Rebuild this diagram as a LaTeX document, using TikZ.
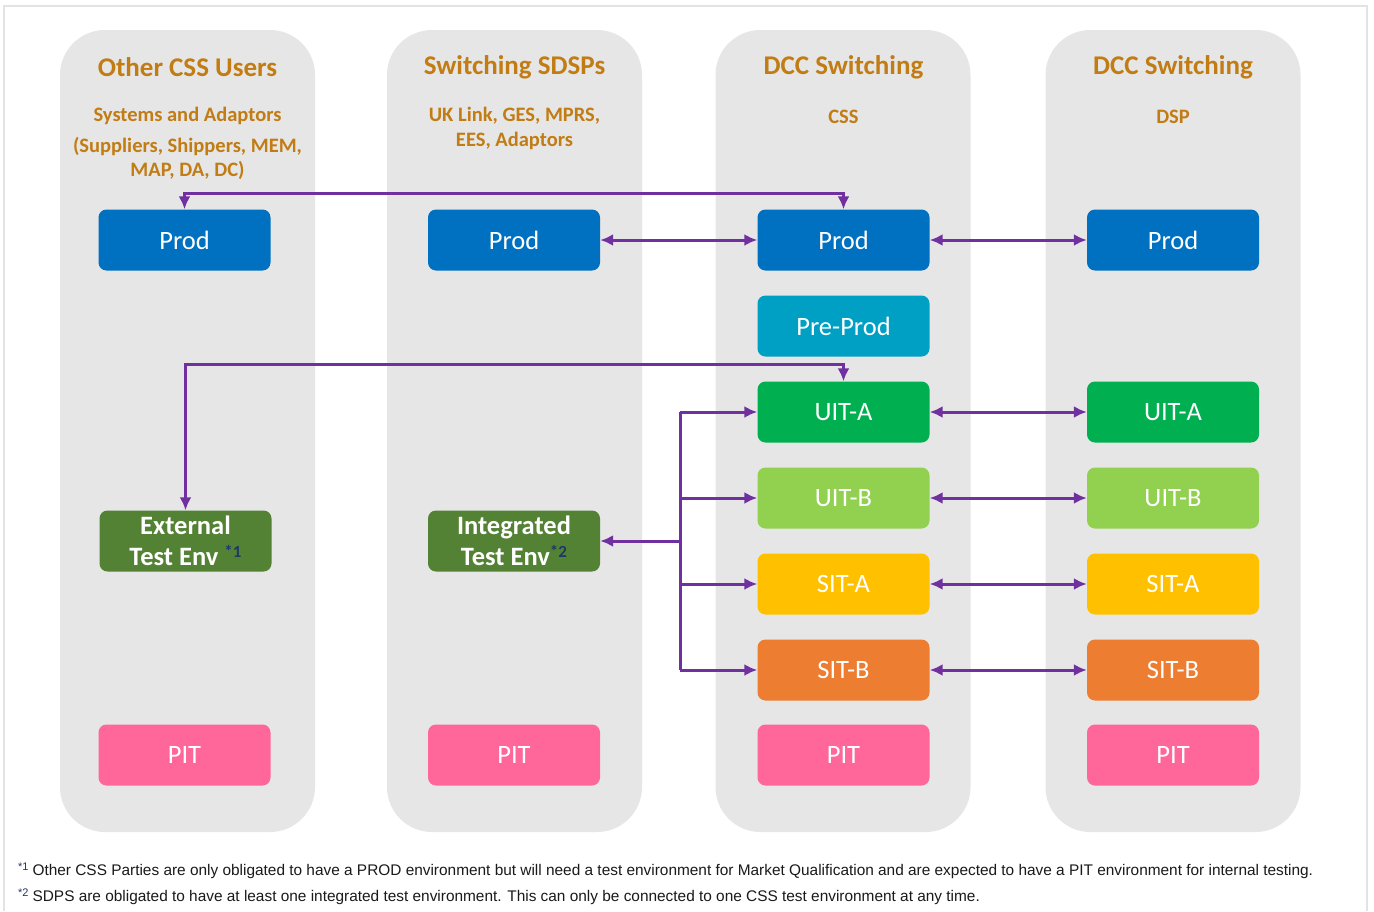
\documentclass[tikz,border=0pt]{standalone}
\usepackage{fontspec}
\setmainfont{Carlito}
\newfontfamily\arialfont{Liberation Sans}
\usetikzlibrary{arrows.meta}
\definecolor{panelgrey}{HTML}{E6E6E6}
\definecolor{framegrey}{HTML}{E3E3E3}
\definecolor{headcol}{HTML}{C17C14}
\definecolor{prodblue}{HTML}{0070C0}
\definecolor{preprod}{HTML}{00A0C4}
\definecolor{uitagreen}{HTML}{00B050}
\definecolor{uitbgreen}{HTML}{92D050}
\definecolor{sitayellow}{HTML}{FFC000}
\definecolor{sitborange}{HTML}{ED7D31}
\definecolor{pitpink}{HTML}{FF6699}
\definecolor{testgreen}{HTML}{548235}
\definecolor{linkpurple}{HTML}{7030A0}
\definecolor{noteblue}{HTML}{1F3864}
\definecolor{notetext}{HTML}{1A1A1A}
\tikzset{
  panel/.style={fill=panelgrey, rounded corners=45pt, minimum width=255pt, minimum height=802pt, inner sep=0pt},
  envbox/.style={rounded corners=8pt, minimum width=172pt, minimum height=61pt, inner sep=0pt, text=white,
    font=\fontsize{26.5}{30}\selectfont},
  testbox/.style={envbox, fill=testgreen, align=center, font=\bfseries\fontsize{26.5}{31}\selectfont},
  headtitle/.style={text=headcol, font=\bfseries\fontsize{27}{32}\selectfont, inner sep=0pt},
  headsub/.style={text=headcol, font=\bfseries\fontsize{20.5}{24.5}\selectfont, align=center, inner sep=0pt},
  footnote/.style={anchor=west, inner sep=0pt, text=notetext, font=\arialfont\fontsize{15.4}{18}\selectfont},
  linkline/.style={draw=linkpurple, line width=3pt},
  biarrow/.style={linkline, {Latex[length=13pt,width=12pt]}-{Latex[length=13pt,width=12pt]}},
  onearrow/.style={linkline, -{Latex[length=13pt,width=12pt]}},
}
\newcommand{\marknote}[1]{\textcolor{noteblue}{\raisebox{8pt}{\bfseries\fontsize{17}{17}\selectfont *#1}}}
\newcommand{\footmark}[1]{\textcolor{noteblue}{\raisebox{5pt}{\fontsize{11}{11}\selectfont *#1}}}
\begin{document}
\begin{tikzpicture}[x=1pt, y=-1pt]
\useasboundingbox (0,0) rectangle (1374,911);
\fill[white] (0,0) rectangle (1374,911);
\draw[framegrey, line width=2pt] (4,911) -- (4,6) -- (1367,6) -- (1367,911);

% panels
\node[panel] (p1) at (187.5,431) {};
\node[panel] (p2) at (514.5,431) {};
\node[panel] (p3) at (843,431) {};
\node[panel] (p4) at (1173,431) {};

% headers
\node[headtitle] (h1) at (187.5,67) {Other CSS Users};
\node[headsub] (s1) at (187.5,143.5) {Systems and Adaptors\\[6pt](Suppliers, Shippers, MEM,\\MAP, DA, DC)};
\node[headtitle] (h2) at (514.5,67) {Switching SDSPs};
\node[headsub] (s2) at (514.5,128.5) {UK Link, GES, MPRS,\\EES, Adaptors};
\node[headtitle] (h3) at (843.5,67) {DCC Switching};
\node[headsub] (s3) at (843.5,117) {CSS};
\node[headtitle] (h4) at (1173,67) {DCC Switching};
\node[headsub] (s4) at (1173,117) {DSP};

% column 1
\node[envbox, fill=prodblue] (c1prod) at (184.5,240) {Prod};
\node[testbox] (c1ete) at (185.5,541) {External\\Test Env \marknote{1}};
\node[envbox, fill=pitpink] (c1pit) at (184.5,755) {PIT};

% column 2
\node[envbox, fill=prodblue] (c2prod) at (514,240) {Prod};
\node[testbox] (c2ite) at (514,541) {Integrated\\Test Env\marknote{2}};
\node[envbox, fill=pitpink] (c2pit) at (514,755) {PIT};

% column 3
\node[envbox, fill=prodblue] (c3prod) at (843.5,240) {Prod};
\node[envbox, fill=preprod] (c3pre) at (843.5,326) {Pre-Prod};
\node[envbox, fill=uitagreen] (c3uita) at (843.5,412) {UIT-A};
\node[envbox, fill=uitbgreen] (c3uitb) at (843.5,498) {UIT-B};
\node[envbox, fill=sitayellow] (c3sita) at (843.5,584) {SIT-A};
\node[envbox, fill=sitborange] (c3sitb) at (843.5,670) {SIT-B};
\node[envbox, fill=pitpink] (c3pit) at (843.5,755) {PIT};

% column 4
\node[envbox, fill=prodblue] (c4prod) at (1173,240) {Prod};
\node[envbox, fill=uitagreen] (c4uita) at (1173,412) {UIT-A};
\node[envbox, fill=uitbgreen] (c4uitb) at (1173,498) {UIT-B};
\node[envbox, fill=sitayellow] (c4sita) at (1173,584) {SIT-A};
\node[envbox, fill=sitborange] (c4sitb) at (1173,670) {SIT-B};
\node[envbox, fill=pitpink] (c4pit) at (1173,755) {PIT};

% connectors
\draw[biarrow] (c1prod.north) -- ++(0,-16) -| (c3prod.north);
\draw[biarrow] (c2prod.east) -- (c3prod.west);
\draw[biarrow] (c3prod.east) -- (c4prod.west);
\draw[biarrow] (c1ete.north) -- ++(0,-146) -| (c3uita.north);
\draw[biarrow] (c3uita.east) -- (c4uita.west);
\draw[biarrow] (c3uitb.east) -- (c4uitb.west);
\draw[biarrow] (c3sita.east) -- (c4sita.west);
\draw[biarrow] (c3sitb.east) -- (c4sitb.west);

\coordinate (bustop) at (680,412);
\coordinate (busbot) at (680,670);
\draw[linkline] (bustop) -- (busbot);
\draw[onearrow] (bustop) -- (c3uita.west);
\draw[onearrow] (c3uitb.west -| bustop) -- (c3uitb.west);
\draw[onearrow] (c3sita.west -| bustop) -- (c3sita.west);
\draw[onearrow] (busbot) -- (c3sitb.west);
\draw[onearrow] (c2ite.east -| bustop) -- (c2ite.east);

% footnotes
\node[footnote] (fn1) at (18,871) {\footmark{1}\hspace{4pt}Other CSS Parties are only obligated to have a PROD environment but will need a test environment for Market Qualification and are expected to have a PIT environment for internal testing.};
\node[footnote] (fn2) at (18,897) {\footmark{2}\hspace{4pt}SDPS are obligated to have at least one integrated test environment. This can only be connected to one CSS test environment at any time.};
\end{tikzpicture}
\end{document}
